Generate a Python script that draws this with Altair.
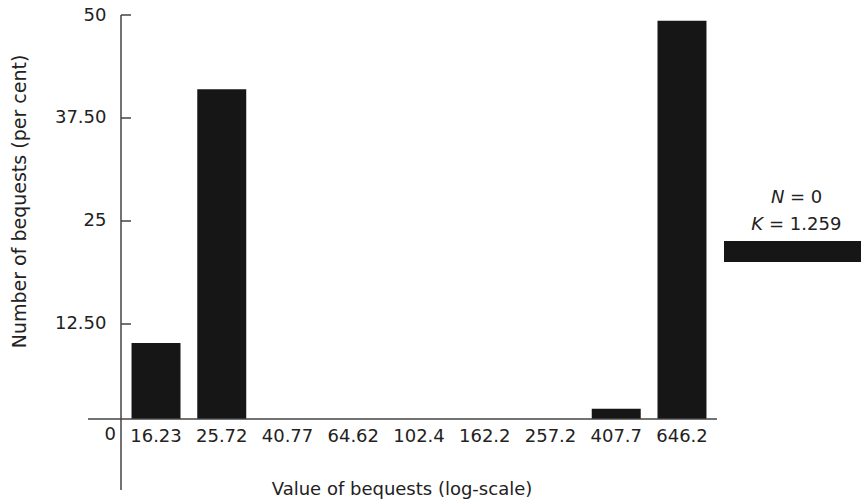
import altair as alt
import pandas as pd

# ---- data ----
CATEGORIES = ["16.23", "25.72", "40.77", "64.62", "102.4", "162.2", "257.2", "407.7", "646.2"]
SHARES = [10.2, 41.0, 0, 0, 0, 0, 0, 2.2, 49.3]
Y_TICKS = [12.5, 25, 37.5, 50]
Y_TICK_LABELS = ["12.50", "25", "37.50", "50"]
ZERO_LABEL = "0"
Y_MIN = 0.97
Y_MAX = 50
N_VALUE = "0"
K_VALUE = "1.259"
X_TITLE = "Value of bequests (log-scale)"
Y_TITLE = "Number of bequests (per cent)"

# ---- style ----
FONT = "DejaVu Sans"
FS = 18
INK = "#161616"
AXIS = "#444444"
TEXT = "#222222"
W, H = 596, 404

bars_df = pd.DataFrame({"cat": CATEGORIES, "share": SHARES})
ticks_df = pd.DataFrame({"share": Y_TICKS})
one = pd.DataFrame({"k": [0]})

label_expr = " : ".join(
    f"datum.value == {v} ? '{lab}'" for v, lab in zip(Y_TICKS, Y_TICK_LABELS)
) + " : datum.label"

yscale = alt.Scale(domain=[Y_MIN, Y_MAX], nice=False, zero=False, clamp=True)

y_axis = alt.Axis(
    values=Y_TICKS, labelExpr=label_expr, domain=False, ticks=False, tickSize=0,
    grid=False, labelPadding=15, labelFont=FONT, labelFontSize=FS, labelColor=TEXT,
    title=Y_TITLE, titleFont=FONT, titleFontSize=19, titleFontWeight="normal",
    titleColor=TEXT, titleAngle=270, titleX=-96, titleY=186,
    titleBaseline="alphabetic", titleAlign="center",
)

bars = alt.Chart(bars_df).mark_bar(color=INK).encode(
    x=alt.X(
        "cat:N",
        sort=CATEGORIES,
        scale=alt.Scale(paddingInner=0.255, paddingOuter=0.16),
        axis=alt.Axis(
            title=X_TITLE, domain=False, ticks=False, tickSize=0,
            labelPadding=22.5, labelBaseline="alphabetic", labelAngle=0,
            labelFont=FONT, labelFontSize=FS, labelColor=TEXT, labelOverlap=False,
            titleFont=FONT, titleFontSize=FS, titleFontWeight="normal", titleColor=TEXT,
            titleX=280.5, titleY=75, titleBaseline="alphabetic", titleAlign="center",
        ),
    ),
    y=alt.Y("share:Q", scale=yscale, axis=y_axis, title=Y_TITLE),
    y2=alt.datum(Y_MIN),
)

# inward tick marks on the y axis, drawn from the tick values
yticks = alt.Chart(ticks_df).mark_rule(color=AXIS, strokeWidth=1.5).encode(
    y=alt.Y("share:Q", scale=yscale, axis=y_axis, title=Y_TITLE),
    x=alt.value(0),
    x2=alt.value(10),
)

baseline = alt.Chart(one).mark_rule(color=AXIS, strokeWidth=1.5).encode(
    y=alt.value(H), x=alt.value(-33), x2=alt.value(W)
)

yline = alt.Chart(one).mark_rule(color=AXIS, strokeWidth=1.5).encode(
    x=alt.value(0), y=alt.value(0), y2=alt.value(H + 71)
)

zero = alt.Chart(one).mark_text(
    text=ZERO_LABEL, align="right", baseline="alphabetic", font=FONT, fontSize=FS, color=TEXT
).encode(x=alt.value(-5), y=alt.value(425))

n_sym = alt.Chart(one).mark_text(
    text="N", align="right", baseline="alphabetic", font=FONT, fontSize=FS,
    fontStyle="italic", color=TEXT
).encode(x=alt.value(663.5), y=alt.value(188))
n_val = alt.Chart(one).mark_text(
    text="= " + N_VALUE, align="left", baseline="alphabetic", font=FONT, fontSize=FS, color=TEXT
).encode(x=alt.value(669), y=alt.value(188))
k_sym = alt.Chart(one).mark_text(
    text="K", align="right", baseline="alphabetic", font=FONT, fontSize=FS,
    fontStyle="italic", color=TEXT
).encode(x=alt.value(642), y=alt.value(215))
k_val = alt.Chart(one).mark_text(
    text="= " + K_VALUE, align="left", baseline="alphabetic", font=FONT, fontSize=FS, color=TEXT
).encode(x=alt.value(648), y=alt.value(215))
swatch = alt.Chart(one).mark_rect(color=INK).encode(
    x=alt.value(603), x2=alt.value(740), y=alt.value(226), y2=alt.value(247)
)

chart = alt.layer(
    bars, yticks, baseline, yline, zero, n_sym, n_val, k_sym, k_val, swatch
).properties(
    width=W,
    height=H,
    padding={"left": 121, "top": 15, "right": 144, "bottom": 85},
    autosize=alt.AutoSizeParams(type="none"),
    background="white",
).configure_view(stroke=None)

chart.save("out.html", embed_options={"renderer": "svg", "actions": False})
